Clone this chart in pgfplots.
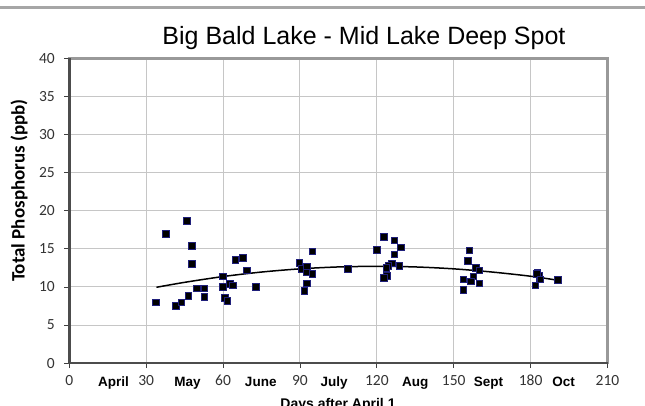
\documentclass[border=0pt]{standalone}
\usepackage{fontspec}
\setmainfont{Liberation Sans}
\newfontfamily\carlito{Carlito}
\usepackage{pgfplots}
\pgfplotsset{compat=1.18}
\definecolor{markborder}{HTML}{1F1F7A}
\begin{document}
\begin{tikzpicture}[x=1bp,y=1bp]
\useasboundingbox (0,0) rectangle (645,405);
\draw[line width=2.5bp, gray!70] (0,397.5) -- (645,397.5);
\node[anchor=base, font=\fontsize{25bp}{28bp}\selectfont] at (364,361) {Big Bald Lake - Mid Lake Deep Spot};
\node[rotate=90, font=\carlito\bfseries\fontsize{19bp}{21bp}\selectfont] at (19,214.5) {Total Phosphorus (ppb)};
\node[anchor=base, font=\bfseries\fontsize{14bp}{16bp}\selectfont] at (338,-3) {Days after April 1};
\begin{axis}[
  at={(69.3bp,41.9bp)}, anchor=south west,
  scale only axis, width=538.2bp, height=304.8bp,
  xmin=0, xmax=210, ymin=0, ymax=40,
  xtick={0,30,...,210}, ytick={0,5,...,40},
  grid=major, major grid style={gray!45, line width=1bp},
  axis line style={gray!80, line width=2.5bp},
  tick align=outside, xtick pos=left, ytick pos=left,
  major tick length=5bp, tick style={black!75, line width=0.8bp},
  /pgf/number format/assume math mode=true,
  tick label style={font=\carlito\fontsize{15.5bp}{16bp}\selectfont, text=black!80},
  xticklabel style={yshift=-4bp, text height=10bp, text depth=0bp},
  yticklabel style={xshift=-6bp},
  extra x ticks={17.2,46.1,74.7,103.3,135,163.6,192.9},
  extra x tick labels={April,May,June,July,Aug,Sept,Oct},
  extra x tick style={grid=none, major tick length=0pt,
    tick label style={font=\bfseries\fontsize{13.5bp}{15bp}\selectfont, text=black, yshift=-6bp, text height=10bp, text depth=0bp}},
  clip=false,
]
\addplot[black, line width=1.5bp, smooth] coordinates {
 (34,9.95) (45,10.6) (60,11.36) (75,11.95) (90,12.37) (105,12.62) (120,12.7)
 (135,12.62) (150,12.37) (165,11.95) (180,11.4) (191,10.85)
};
\addplot[only marks, mark=square*, mark size=3.3bp, mark options={fill=black, draw=markborder, line width=0.5bp}] coordinates {
(33.7,8.0) (37.7,17.0) (41.6,7.5) (43.7,8.0) (45.8,18.7) (46.4,8.8)
(47.8,15.4) (47.8,13.0) (49.7,9.8) (52.7,9.8) (52.7,8.7)
(59.9,11.4) (59.9,10.05) (60.7,8.6) (61.6,8.2) (62.7,10.4) (63.8,10.2)
(64.8,13.6) (67.7,13.85) (69.3,12.2) (72.7,10.0)
(89.7,13.2) (90.6,12.4) (92.7,12.7) (92.4,11.9) (94.8,14.7) (94.8,11.75)
(92.7,10.5) (91.7,9.5) (108.7,12.4)
(119.9,14.9) (122.8,16.6) (126.8,16.1) (129.4,15.2) (126.8,14.3) (125.8,13.1)
(124.5,12.75) (123.6,12.5) (128.8,12.8) (123.8,11.5) (122.8,11.2)
(156.0,14.8) (155.4,13.4) (158.7,12.5) (159.9,12.2) (153.7,11.0) (157.6,11.4)
(156.7,10.75) (159.9,10.5) (153.7,9.6)
(182.6,11.9) (183.4,11.5) (183.5,11.0) (181.8,10.2) (182.4,11.75) (183.7,11.0)
(190.6,10.9)
};
\draw[line width=2.5bp, black!70] (rel axis cs:0,1) -- (rel axis cs:0,0) -- (rel axis cs:1,0);
\end{axis}
\end{tikzpicture}
\end{document}
